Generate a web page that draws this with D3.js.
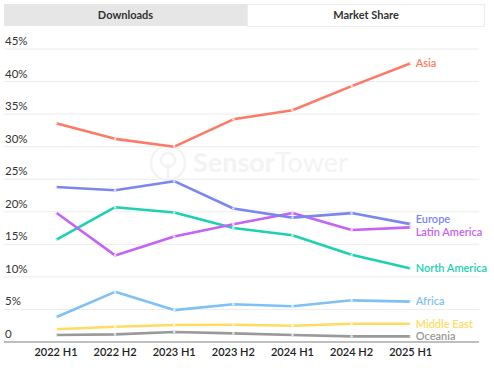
<!DOCTYPE html>
<html><head><meta charset="utf-8">
<script src="https://cdn.jsdelivr.net/npm/d3@7"></script>
<style>
html,body{margin:0;padding:0;background:#fff;}
svg{display:block;font-family:Lato,"Noto Sans",sans-serif;}
</style></head>
<body>
<svg id="chart" width="494" height="368"></svg>
<script>
const periods = ["2022 H1","2022 H2","2023 H1","2023 H2","2024 H1","2024 H2","2025 H1"];
const yTicks = [0,5,10,15,20,25,30,35,40,45];
const tabs = ["Downloads","Market Share"];

const asia         = [33.6, 31.2, 30.0, 34.2, 35.6, 39.3, 42.8];
const europe       = [23.8, 23.3, 24.7, 20.5, 19.1, 19.8, 18.1];
const latinAmerica = [19.9, 13.3, 16.2, 18.1, 19.8, 17.2, 17.6];
const northAmerica = [15.7, 20.7, 19.9, 17.5, 16.4, 13.4, 11.3];
const africa       = [3.8, 7.7, 4.9, 5.8, 5.5, 6.4, 6.2];
const middleEast   = [1.95, 2.35, 2.6, 2.65, 2.5, 2.8, 2.8];
const oceania      = [1.07, 1.17, 1.53, 1.33, 1.07, 0.87, 0.87];

const seriesNames = ["Asia","Europe","Latin America","North America","Africa","Middle East","Oceania"];
const seriesValues = [asia, europe, latinAmerica, northAmerica, africa, middleEast, oceania];
const seriesColors = ["#fd7b66","#7b86ef","#c563f4","#1dd1b0","#7fc1f5","#fedc62","#999999"];

const svg = d3.select("#chart");

// tabs
svg.append("rect").attr("x",4).attr("y",4).attr("width",243).attr("height",22).attr("fill","#e6e6e6");
svg.append("rect").attr("x",247.5).attr("y",4.5).attr("width",237).attr("height",22).attr("fill","#fff").attr("stroke","#ececec");
svg.append("text").attr("x",125.5).attr("y",19).attr("text-anchor","middle").attr("font-size",11).attr("font-weight",700).attr("fill","#333").text(tabs[0]);
svg.append("text").attr("x",366).attr("y",19).attr("text-anchor","middle").attr("font-size",11).attr("font-weight",700).attr("fill","#333").text(tabs[1]);

const x = d3.scalePoint().domain(periods).range([56, 410.7]);
const y = d3.scaleLinear().domain([0,45]).range([342, 49]);

// gridlines + y labels
const g = svg.append("g");
yTicks.forEach(t => {
  if (t > 0) {
    g.append("line").attr("x1",4).attr("x2",479).attr("y1",y(t)).attr("y2",y(t))
      .attr("stroke","#ececec").attr("stroke-width",1);
  }
  g.append("text").attr("x",5).attr("y",y(t)-4).attr("font-size",11.5).attr("fill","#333")
    .text(t === 0 ? "0" : t + "%");
});

// watermark
const wm = svg.append("g");
wm.append("circle").attr("cx",168).attr("cy",163).attr("r",17).attr("fill","none").attr("stroke","#f3f3f3").attr("stroke-width",2.5);
wm.append("circle").attr("cx",168).attr("cy",160).attr("r",7).attr("fill","none").attr("stroke","#f3f3f3").attr("stroke-width",2.5);
wm.append("line").attr("x1",168).attr("x2",168).attr("y1",163).attr("y2",178).attr("stroke","#f3f3f3").attr("stroke-width",2.5);
const wt = wm.append("text").attr("x",193).attr("y",172).attr("font-size",27).attr("fill","#f3f3f3");
wt.append("tspan").attr("font-weight",700).text("Sensor");
wt.append("tspan").attr("font-weight",400).text("Tower");

// x axis
svg.append("line").attr("x1",4).attr("x2",479).attr("y1",342).attr("y2",342).attr("stroke","#aaa").attr("stroke-width",1.5);
periods.forEach(p => {
  svg.append("text").attr("x",x(p)).attr("y",356).attr("text-anchor","middle").attr("font-size",11).attr("font-weight",600).attr("fill","#222").text(p);
});

// lines
const line = d3.line().x((d,i)=>x(periods[i])).y(d=>y(d));
const drawOrder = [6,5,4,3,2,1,0];
drawOrder.forEach(si => {
  const vals = seriesValues[si];
  svg.append("path").attr("d", line(vals)).attr("fill","none").attr("stroke",seriesColors[si])
    .attr("stroke-width",2.6).attr("stroke-linejoin","round");
  vals.forEach((v,i) => {
    svg.append("circle").attr("cx",x(periods[i])).attr("cy",y(v)).attr("r",1.3)
      .attr("fill","#fff").attr("fill-opacity",0.7);
  });
});

// end labels with collision avoidance
const labels = seriesNames.map((n,i)=>({name:n, color:seriesColors[i], y:y(seriesValues[i][6])}));
labels.sort((a,b)=>a.y-b.y);
const minGap = 12.5;
for (let iter=0; iter<20; iter++) {
  for (let i=1;i<labels.length;i++){
    const d = labels[i].y - labels[i-1].y;
    if (d < minGap) {
      const shift = (minGap - d)/2;
      labels[i].y += shift; labels[i-1].y -= shift;
    }
  }
}
labels.forEach(l => {
  svg.append("text").attr("x",x(periods[6])+5).attr("y",l.y).attr("dy","0.35em")
    .attr("font-size",11).attr("font-weight",600).attr("fill",l.color).text(l.name);
});
</script>
</body></html>
